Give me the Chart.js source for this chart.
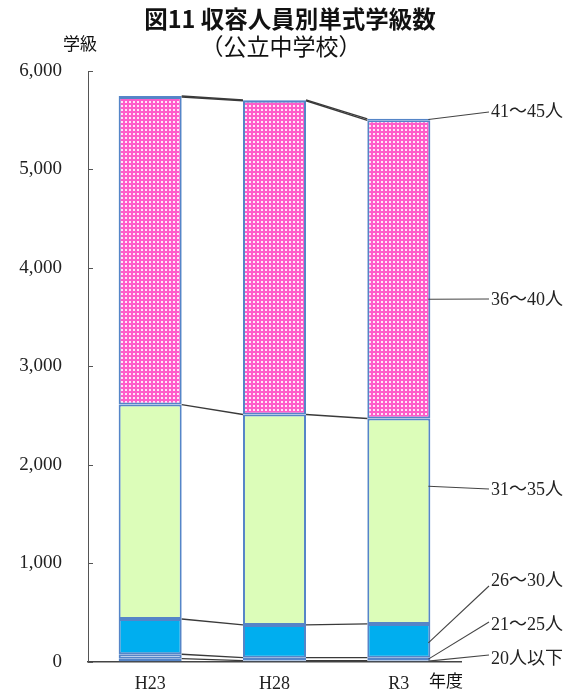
<!DOCTYPE html>
<html>
<head>
<meta charset="utf-8">
<script src="https://cdn.jsdelivr.net/npm/chart.js@4.4.1/dist/chart.umd.min.js"></script>
<style>
  html, body { margin: 0; padding: 0; background: #fff; }
  #wrap { width: 574px; height: 699px; position: relative; }
</style>
</head>
<body>
<div id="wrap"><canvas id="chart" width="574" height="699"></canvas></div>
<script>
// 年度
const categories = ["H23", "H28", "R3"];
const seriesNames = ["20人以下", "21～25人", "26～30人", "31～35人", "36～40人", "41～45人"];

// 学級数
const under20 = [30, 10, 10];
const from21to25 = [45, 30, 30];
const from26to30 = [358, 333, 343];
const from31to35 = [2178, 2137, 2087];
const from36to40 = [3125, 3188, 3029];
const from41to45 = [10, 8, 15];

const yTicks = [0, 1000, 2000, 3000, 4000, 5000, 6000];

const titleText = "図11 収容人員別単式学級数";
const subTitleText = "（公立中学校）";

function makePattern(w, h, draw) {
  const c = document.createElement("canvas");
  c.width = w;
  c.height = h;
  const g = c.getContext("2d");
  draw(g);
  return c.getContext("2d").createPattern(c, "repeat");
}

const pinkDots = makePattern(4, 4, (g) => {
  g.fillStyle = "#ff5cca";
  g.fillRect(0, 0, 4, 4);
  g.fillStyle = "#ffe6f7";
  g.fillRect(1, 1, 2, 2);
});

const dashStrip = makePattern(8, 4, (g) => {
  g.fillStyle = "#c9daf2";
  g.fillRect(0, 0, 8, 4);
  g.fillStyle = "#e2a878";
  g.fillRect(0, 1, 4, 2);
});

const fills = ["#2d4a78", dashStrip, "#00aeef", "#dcfdb9", pinkDots, pinkDots];
const values = [under20, from21to25, from26to30, from31to35, from36to40, from41to45];

// right side labels: text y, leader end y, where on the R3 segment the leader starts
const sideLabels = [
  { text: "41～45人", ty: 112, ey: 112, frac: 0.5 },
  { text: "36～40人", ty: 300, ey: 299, frac: 0.4 },
  { text: "31～35人", ty: 490, ey: 489, frac: 0.67 },
  { text: "26～30人", ty: 581, ey: 586, frac: 0.44 },
  { text: "21～25人", ty: 625, ey: 622, frac: 0.5 },
  { text: "20人以下", ty: 659, ey: 655, frac: 0.5 },
];
const sideOrder = [5, 4, 3, 2, 1, 0];

const extras = {
  id: "extras",
  afterDatasetsDraw(chart) {
    const ctx = chart.ctx;
    const y = chart.scales.y;
    const area = chart.chartArea;
    ctx.save();

    // series lines between bars
    ctx.strokeStyle = "#3a3a3a";
    ctx.lineWidth = 1.4;
    chart.data.datasets.forEach((ds, di) => {
      const bars = chart.getDatasetMeta(di).data;
      for (let i = 0; i < bars.length - 1; i++) {
        const a = bars[i], b = bars[i + 1];
        ctx.beginPath();
        ctx.moveTo(a.x + a.width / 2, a.y);
        ctx.lineTo(b.x - b.width / 2, b.y);
        ctx.stroke();
      }
    });

    // leader lines + labels
    ctx.font = '18px "Liberation Serif", "Noto Sans CJK JP"';
    ctx.fillStyle = "#222";
    ctx.textBaseline = "middle";
    ctx.textAlign = "left";
    sideLabels.forEach((lab, k) => {
      const di = sideOrder[k];
      const bar = chart.getDatasetMeta(di).data[categories.length - 1];
      const sy = bar.y + (bar.base - bar.y) * (1 - lab.frac);
      ctx.beginPath();
      ctx.strokeStyle = "#444";
      ctx.lineWidth = 1.1;
      ctx.moveTo(bar.x + bar.width / 2 - 2, sy);
      ctx.lineTo(489, lab.ey);
      ctx.stroke();
      ctx.fillText(lab.text, 491, lab.ty);
    });

    // inner tick marks on y axis
    ctx.strokeStyle = "#555";
    ctx.lineWidth = 1;
    yTicks.forEach((v) => {
      const py = Math.round(y.getPixelForValue(v)) + 0.5;
      ctx.beginPath();
      ctx.moveTo(area.left, py);
      ctx.lineTo(area.left + 5, py);
      ctx.stroke();
    });

    // titles and axis names
    ctx.fillStyle = "#111";
    ctx.textAlign = "center";
    ctx.font = 'bold 23.5px "Noto Sans CJK JP"';
    ctx.fillText(titleText, 290, 19);
    ctx.font = '23px "Noto Sans CJK JP"';
    ctx.fillText(subTitleText, 281, 46);
    ctx.font = '17px "Noto Sans CJK JP"';
    ctx.fillText("学級", 80, 44);
    ctx.fillText("年度", 446, 681);
    ctx.restore();
  },
};

new Chart(document.getElementById("chart"), {
  type: "bar",
  data: {
    labels: categories,
    datasets: seriesNames.map((name, i) => ({
      label: name,
      data: values[i],
      backgroundColor: fills[i],
      borderColor: "#5585c8",
      borderWidth: 2,
      borderSkipped: false,
      categoryPercentage: 1,
      barPercentage: 0.507,
    })),
  },
  options: {
    responsive: false,
    animation: false,
    layout: { padding: { top: 71, right: 113, left: 0, bottom: 0 } },
    plugins: {
      legend: { display: false },
      title: { display: false },
      tooltip: { enabled: false },
    },
    scales: {
      x: {
        stacked: true,
        grid: { display: false, drawTicks: false },
        border: { display: true, color: "#444", width: 1.5 },
        ticks: {
          padding: 12,
          color: "#222",
          font: { family: "Liberation Serif", size: 18 },
        },
        afterFit(scale) { scale.height = 33; },
      },
      y: {
        stacked: true,
        min: 0,
        max: 6000,
        afterBuildTicks(scale) { scale.ticks = yTicks.map((v) => ({ value: v })); },
        grid: { display: false, drawTicks: false },
        border: { display: true, color: "#555", width: 1 },
        ticks: {
          padding: 26,
          color: "#222",
          font: { family: "Liberation Serif", size: 19 },
          callback: (v) => v.toLocaleString("en-US"),
        },
        afterFit(scale) { scale.width = 88; },
      },
    },
  },
  plugins: [extras],
});
</script>
</body>
</html>
